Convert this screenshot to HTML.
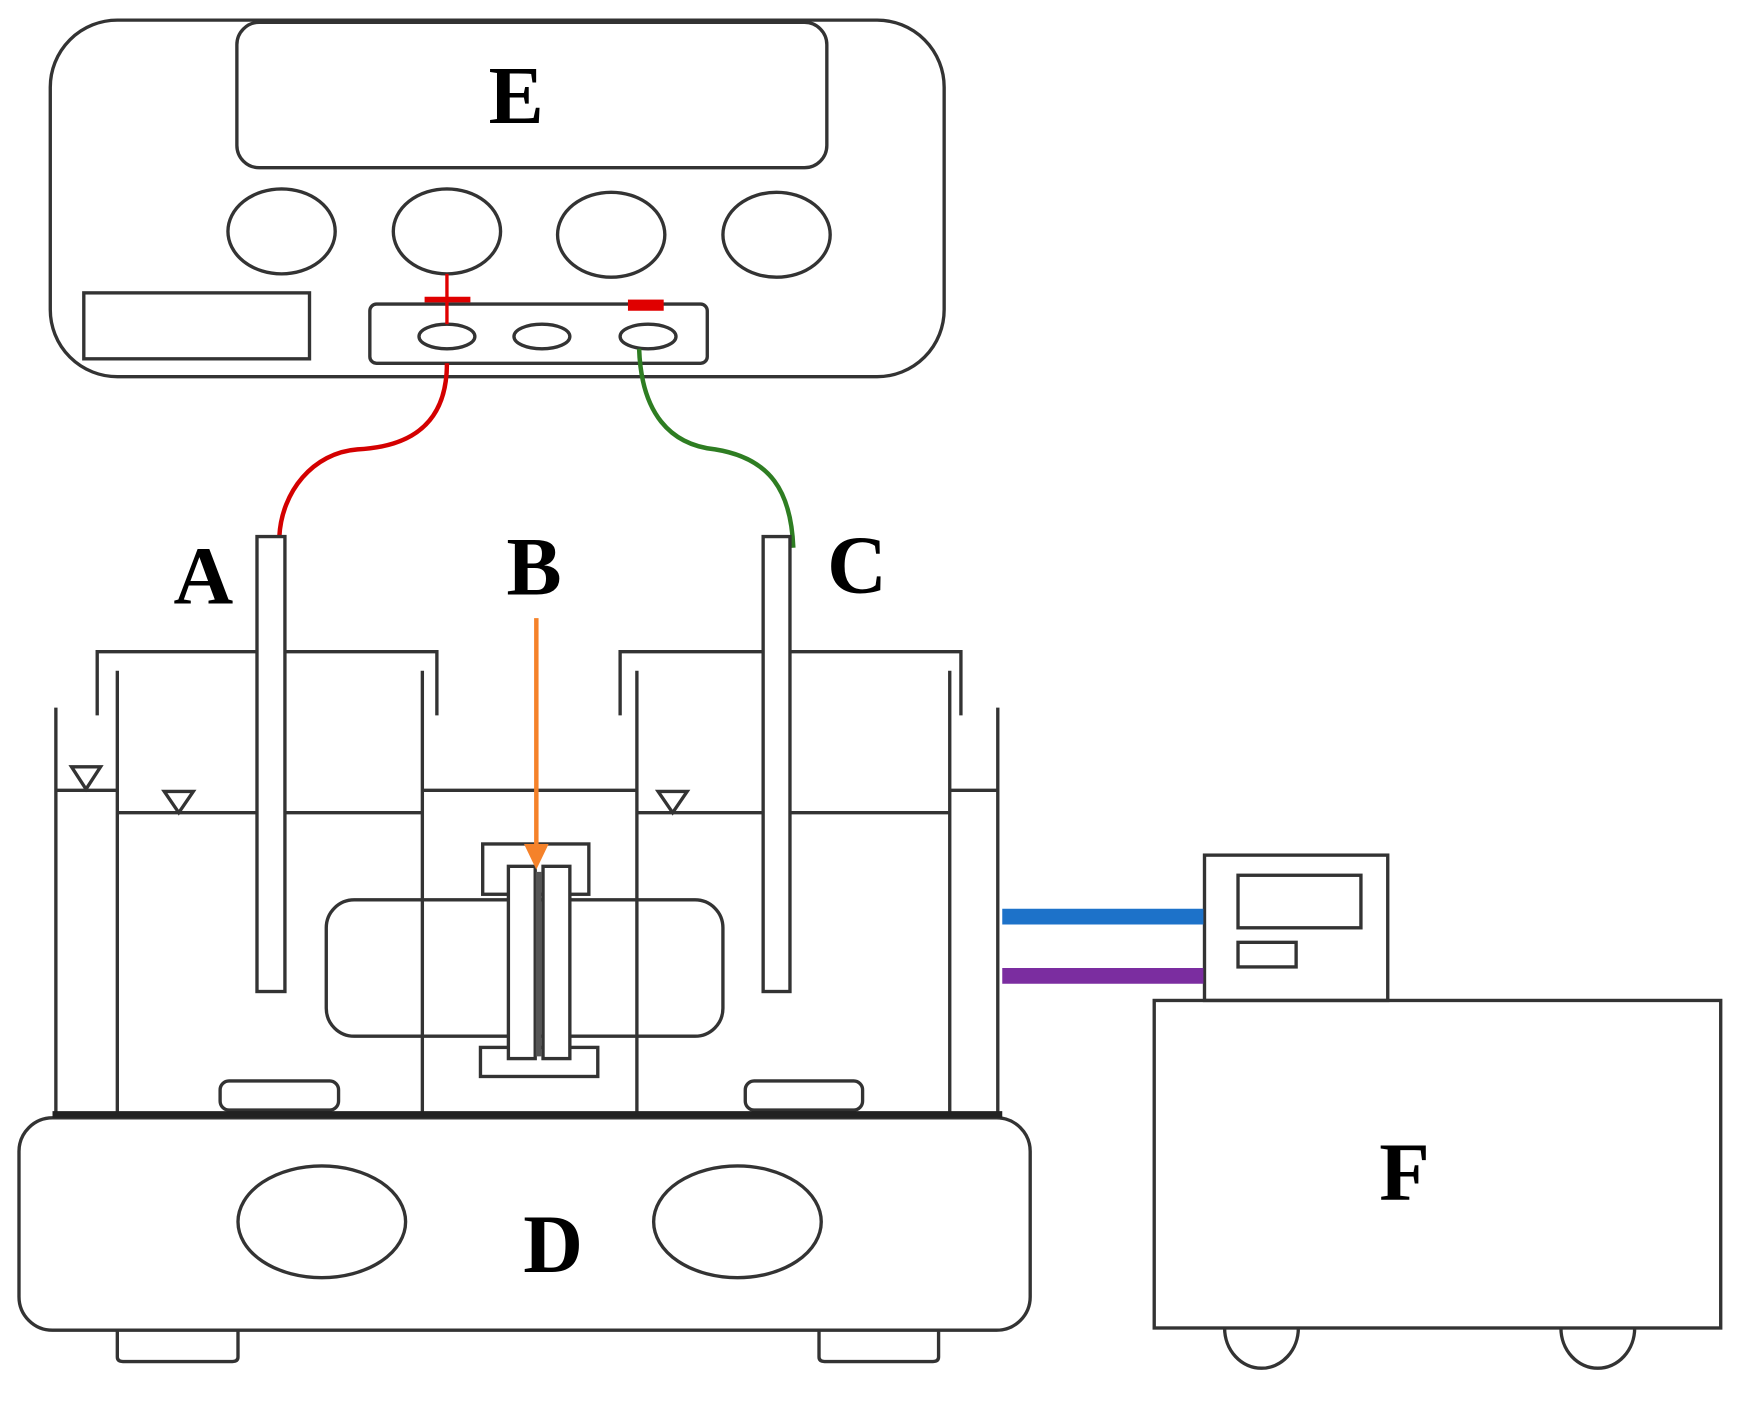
<!DOCTYPE html>
<html><head><meta charset="utf-8"><style>
html,body{margin:0;padding:0;background:#fff;}
svg{display:block;}
text{font-family:"Liberation Serif",serif;font-weight:bold;fill:#000;}
</style></head><body>
<svg width="1752" height="1404" viewBox="0 0 1568 1256" preserveAspectRatio="none" xmlns="http://www.w3.org/2000/svg">
<g fill="none" stroke="#333" stroke-width="3">
<rect x="45" y="18" width="800" height="319" rx="60"/>
<rect x="212" y="20" width="528" height="130" rx="20"/>
<ellipse cx="252" cy="207" rx="48" ry="38"/>
<ellipse cx="400" cy="207" rx="48" ry="38"/>
<ellipse cx="547" cy="210" rx="48" ry="38"/>
<ellipse cx="695" cy="210" rx="48" ry="38"/>
<rect x="75" y="262" width="202" height="59"/>
<rect x="331" y="272" width="302" height="53" rx="6"/>
<ellipse cx="400" cy="301" rx="25" ry="11"/>
<ellipse cx="485" cy="301" rx="25" ry="11"/>
<ellipse cx="580" cy="301" rx="25" ry="11"/>
</g>
<g stroke="#e00000" stroke-width="3" fill="none">
<line x1="400" y1="245" x2="400" y2="290"/>
<line x1="380" y1="268" x2="421" y2="268" stroke-width="5"/>
</g>
<rect x="562" y="268" width="32" height="10" fill="#e00000"/>
<path d="M400 325 C400 385 360 400 320 402 C280 405 252 440 250 480" stroke="#d40000" stroke-width="4" fill="none"/>
<path d="M572 312 C574 370 600 398 640 402 C690 410 708 440 710 490" stroke="#2e7d22" stroke-width="4" fill="none"/>
<g fill="none" stroke="#333" stroke-width="3">
<rect x="230" y="480" width="25" height="407" fill="#fff"/>
<rect x="683" y="480" width="24" height="407" fill="#fff"/>
<polyline points="87,640 87,583 230,583"/>
<polyline points="255,583 391,583 391,640"/>
<polyline points="555,640 555,583 683,583"/>
<polyline points="707,583 860,583 860,640"/>
<line x1="105" y1="600" x2="105" y2="997"/>
<line x1="378" y1="600" x2="378" y2="997"/>
<line x1="570" y1="600" x2="570" y2="997"/>
<line x1="850" y1="600" x2="850" y2="997"/>
<line x1="50" y1="633" x2="50" y2="997"/>
<line x1="893" y1="633" x2="893" y2="997"/>
<line x1="50" y1="707" x2="105" y2="707"/>
<line x1="850" y1="707" x2="893" y2="707"/>
<line x1="378" y1="707" x2="570" y2="707"/>
<line x1="105" y1="727" x2="230" y2="727"/>
<line x1="255" y1="727" x2="378" y2="727"/>
<line x1="570" y1="727" x2="683" y2="727"/>
<line x1="707" y1="727" x2="850" y2="727"/>
<polygon points="64,686 90,686 77,706"/>
<polygon points="147,708 173,708 160,727"/>
<polygon points="589,708 615,708 602,727"/>
<rect x="292" y="805" width="355" height="122" rx="25"/>
<rect x="432" y="755" width="95" height="45" fill="#fff"/>
<rect x="430" y="937" width="105" height="26" fill="#fff"/>
<rect x="455" y="775" width="24" height="172" fill="#fff"/>
<rect x="486" y="775" width="24" height="172" fill="#fff"/>
<rect x="197" y="967" width="106" height="26" rx="8"/>
<rect x="667" y="967" width="105" height="26" rx="8"/>
<rect x="17" y="1000" width="905" height="190" rx="30"/>
<ellipse cx="288" cy="1093" rx="75" ry="50"/>
<ellipse cx="660" cy="1093" rx="75" ry="50"/>
<path d="M105 1190 V1214 Q105 1218 110 1218 H208 Q213 1218 213 1214 V1190"/>
<path d="M733 1190 V1214 Q733 1218 738 1218 H835 Q840 1218 840 1214 V1190"/>
<rect x="1078" y="765" width="164" height="130"/>
<rect x="1108" y="783" width="110" height="47"/>
<rect x="1108" y="843" width="52" height="22"/>
<rect x="1033" y="895" width="507" height="293"/>
<path d="M1096 1188 A33 36 0 0 0 1162 1188"/>
<path d="M1397 1188 A33 36 0 0 0 1463 1188"/>
</g>
<line x1="482" y1="780" x2="482" y2="945" stroke="#555" stroke-width="5"/>
<line x1="47" y1="997" x2="897" y2="997" stroke="#222" stroke-width="6"/>
<line x1="480" y1="553" x2="480" y2="760" stroke="#f5822a" stroke-width="4"/>
<polygon points="469,755 491,755 480,778" fill="#f5822a"/>
<line x1="897" y1="820" x2="1077" y2="820" stroke="#1d72c9" stroke-width="14"/>
<line x1="897" y1="873" x2="1077" y2="873" stroke="#7b2da0" stroke-width="14"/>
<g font-size="74" text-anchor="middle">
<text x="462" y="110">E</text>
<text x="182" y="540">A</text>
<text x="478" y="532">B</text>
<text x="767" y="530">C</text>
<text x="495" y="1138">D</text>
<text x="1257" y="1073">F</text>
</g>
</svg>
</body></html>
